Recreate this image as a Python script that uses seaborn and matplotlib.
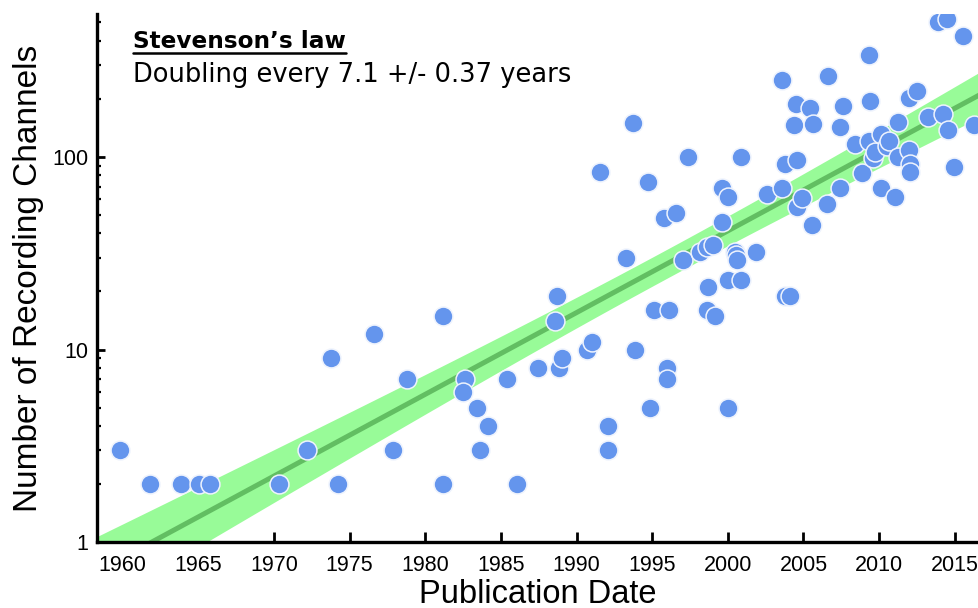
import numpy as np
import pandas as pd
import matplotlib
matplotlib.use("Agg")
import matplotlib.pyplot as plt
from matplotlib.lines import Line2D
from matplotlib.ticker import LogLocator, FixedLocator, NullFormatter
import seaborn as sns

# ---------------- data ----------------
years = [1959.8, 1961.8, 1963.85, 1965.05, 1965.8, 1970.35, 1972.2, 1973.75, 1974.25,
         1976.6, 1977.9, 1978.8, 1981.2, 1981.2, 1982.6, 1982.5, 1983.45, 1983.65,
         1984.15, 1985.4, 1986.1, 1987.45, 1988.6, 1988.7, 1988.85, 1989.05, 1990.7,
         1991.0, 1991.55, 1992.05, 1992.05, 1993.3, 1993.75, 1993.87, 1994.75, 1994.85,
         1995.15, 1995.8, 1995.95, 1996.0, 1996.1, 1996.6, 1997.05, 1997.35, 1998.15,
         1998.6, 1998.6, 1998.7, 1999.05, 1999.15, 1999.6, 1999.6, 2000.0, 2000.0,
         2000.03, 2000.5, 2000.55, 2000.6, 2000.9, 2000.9, 2001.85, 2002.6, 2003.55,
         2003.6, 2003.75, 2003.8, 2004.1, 2004.35, 2004.5, 2004.6, 2004.6, 2004.9,
         2005.45, 2005.55, 2005.65, 2006.55, 2006.65, 2007.4, 2007.4, 2007.6, 2008.4,
         2008.85, 2009.3, 2009.3, 2009.4, 2009.6, 2009.75, 2010.1, 2010.1, 2010.5,
         2010.65, 2011.05, 2011.25, 2011.25, 2011.95, 2011.95, 2012.05, 2012.05,
         2012.5, 2013.25, 2013.9, 2014.2, 2014.5, 2014.55, 2014.95, 2015.55, 2016.3]
channels = [3, 2, 2, 2, 2, 2, 3, 9, 2,
            12, 3, 7, 15, 2, 7, 6, 5, 3,
            4, 7, 2, 8, 14, 19, 8, 9, 10,
            11, 83, 4, 3, 30, 150, 10, 74, 5,
            16, 48, 8, 7, 16, 51, 29, 100, 32,
            34, 16, 21, 35, 15, 69, 46, 62, 23,
            5, 32, 31, 29, 100, 23, 32, 64, 69,
            250, 19, 92, 19, 146, 188, 96, 55, 61,
            178, 44, 147, 57, 262, 69, 143, 184, 116,
            82, 337, 120, 195, 98, 106, 131, 69, 113,
            121, 62, 100, 152, 109, 201, 92, 83,
            218, 160, 500, 166, 517, 137, 88, 423, 146]

# fit: doubling every 7.1 years, one channel in 1961.9
doubling_time = 7.1
base_year = 1961.9
band_center_year = 1996.0
band_min_halfwidth = 0.075    # decades
band_growth = 0.0044          # decades per year away from centre

x_ticks = [1960, 1965, 1970, 1975, 1980, 1985, 1990, 1995, 2000, 2005, 2010, 2015]
y_ticks = [1, 10, 100]
title_bold = "Stevenson\u2019s law"
title_sub = "Doubling every 7.1 +/- 0.37 years"
x_label = "Publication Date"
y_label = "Number of Recording Channels"

df = pd.DataFrame({"year": years, "channels": channels})

# ---------------- figure ----------------
sns.set_style("ticks")
plt.rcParams["font.family"] = ["Liberation Sans", "DejaVu Sans"]
plt.rcParams["text.color"] = "black"
plt.rcParams["axes.labelcolor"] = "black"

W, H = 979, 608
fig = plt.figure(figsize=(W / 100, H / 100), dpi=100)
ax = fig.add_axes([97 / W, (H - 542.3) / H, (W - 97) / W, (542.3 - 14) / H])

xlim = (1958.31, 2016.6)
ylim = (1, 550)

fx = np.linspace(xlim[0] - 1, xlim[1] + 1, 300)
logfit = (fx - base_year) * np.log10(2) / doubling_time
half = np.sqrt(band_min_halfwidth ** 2 + (band_growth * (fx - band_center_year)) ** 2)
ax.fill_between(fx, 10 ** (logfit - half), 10 ** (logfit + half),
                color="#98FB98", lw=0, zorder=1)
sns.lineplot(x=fx, y=10 ** logfit, ax=ax, color="#62BE62", lw=3.6, zorder=2)

sns.scatterplot(data=df, x="year", y="channels", ax=ax, s=185,
                color="#6495ED", edgecolor="#EEF3FD", linewidth=1.1, zorder=3)

ax.set_yscale("log")
ax.set_xlim(*xlim)
ax.set_ylim(*ylim)

ax.xaxis.set_major_locator(FixedLocator(x_ticks))
ax.set_xticklabels([str(t) for t in x_ticks])
ax.yaxis.set_major_locator(FixedLocator(y_ticks))
ax.set_yticklabels([str(t) for t in y_ticks])
ax.yaxis.set_minor_locator(LogLocator(base=10, subs=np.arange(2, 10), numticks=20))
ax.yaxis.set_minor_formatter(NullFormatter())

for s in ["top", "right"]:
    ax.spines[s].set_visible(False)
for s in ["left", "bottom"]:
    ax.spines[s].set_linewidth(2.4)
    ax.spines[s].set_color("black")
    ax.spines[s].set_zorder(5)

ax.tick_params(axis="x", which="major", direction="in", length=7, width=2,
               labelsize=15.5, pad=9, colors="black")
ax.tick_params(axis="y", which="major", direction="in", length=5.5, width=2,
               labelsize=15.5, pad=6, colors="black")
ax.tick_params(axis="y", which="minor", direction="in", length=3, width=1.6,
               colors="black")

ax.set_xlabel(x_label, fontsize=23.5, labelpad=2, color="black")
ax.set_ylabel(y_label, fontsize=24, labelpad=6, color="black")

t1 = fig.text(133 / W, 1 - 48 / H, title_bold, fontsize=16.7, fontweight="bold",
              family=["DejaVu Sans"], ha="left", va="baseline", color="black")
t2 = fig.text(133 / W, 1 - 82 / H, title_sub, fontsize=18.5,
              family=["DejaVu Sans"], ha="left", va="baseline", color="black")

fig.canvas.draw()
bb = t1.get_window_extent()
uy = (H - 53) / H
fig.add_artist(Line2D([bb.x0 / W, bb.x1 / W], [uy, uy], transform=fig.transFigure,
                      color="black", lw=1.8))

fig.savefig("out.png", dpi=100)
